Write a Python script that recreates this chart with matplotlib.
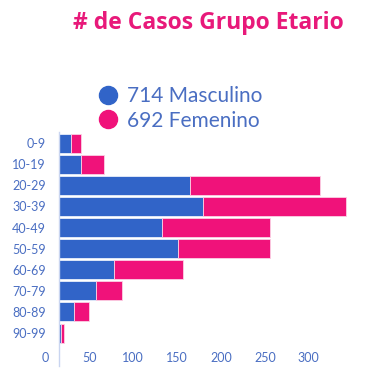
import numpy as np
import matplotlib.pyplot as plt
from matplotlib.lines import Line2D

grupos = ["0-9", "10-19", "20-29", "30-39", "40-49", "50-59", "60-69", "70-79", "80-89", "90-99"]
masculino = np.array([13, 25, 146, 161, 115, 133, 61, 41, 17, 2])
femenino = np.array([12, 25, 145, 159, 121, 103, 78, 29, 16, 4])
xticks = [0, 50, 100, 150, 200, 250, 300]

azul = "#3164c8"
rosa = "#f0127a"
texto = "#4a6ec2"

W, H = 368, 389
fig = plt.figure(figsize=(W / 100, H / 100), dpi=100)

# eje principal (barras)
x0, px_u = 59, 0.8956
xmax = 330
ytop, ybot = 132.5, 366
ax = fig.add_axes([x0 / W, 1 - ybot / H, xmax * px_u / W, (ybot - ytop) / H])
y = np.arange(len(grupos))
ax.barh(y, masculino, height=0.9, color=azul, edgecolor="#e8eefa", linewidth=0.6)
ax.barh(y, femenino, left=masculino, height=0.9, color=rosa, edgecolor="#fbd0e4", linewidth=0.6)
ax.set_xlim(0, xmax)
ax.set_ylim(10.56, -0.5)
ax.set_yticks(y)
ax.set_yticklabels(grupos, fontsize=9, color=texto, family="Lato")
ax.tick_params(axis="y", length=0, pad=9.5)
ax.set_xticks([])
for s in ["top", "right", "bottom"]:
    ax.spines[s].set_visible(False)
ax.spines["left"].set_color("#c9d5f0")
ax.spines["left"].set_linewidth(1)

# eje de etiquetas inferior
x0b, px_b = 45.5, 0.8774
ax2 = fig.add_axes([x0b / W, 1 - 352 / H, xmax * px_b / W, 0.001])
ax2.set_xlim(0, xmax)
ax2.set_xticks(xticks)
ax2.set_xticklabels([str(t) for t in xticks], fontsize=9, color=texto, family="Lato")
ax2.tick_params(axis="x", length=0, pad=0)
ax2.set_yticks([])
for s in ax2.spines.values():
    s.set_visible(False)
ax2.patch.set_alpha(0)

fig.text(208 / W, 1 - 23 / H, "# de Casos Grupo Etario", ha="center", va="center",
         fontsize=16.5, fontweight="bold", color="#e8197a", family="Open Sans")

handles = [Line2D([], [], marker="o", linestyle="", color=azul, markersize=13),
           Line2D([], [], marker="o", linestyle="", color=rosa, markersize=13)]
labels = [f"{masculino.sum()} Masculino", f"{femenino.sum()} Femenino"]
leg = fig.legend(handles, labels, loc="upper left", bbox_to_anchor=(85 / W, 1 - 76 / H),
                 frameon=False, handletextpad=0.3, labelspacing=0.2, borderpad=0,
                 handlelength=1.2, prop={"family": "Lato", "size": 15})
for t in leg.get_texts():
    t.set_color(texto)

fig.savefig("out.png", dpi=100)
